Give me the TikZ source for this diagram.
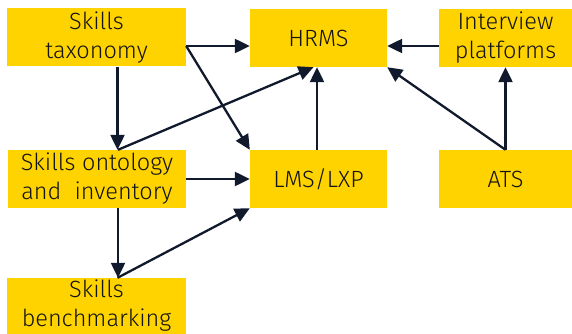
\documentclass[tikz,border=0pt]{standalone}
\usepackage{fontspec}
\setmainfont{Fira Sans Light}
\usetikzlibrary{arrows.meta}
\definecolor{eyyellow}{HTML}{FFD300}
\definecolor{navy}{HTML}{111A2C}
\definecolor{txt}{HTML}{141414}
\begin{document}
\begin{tikzpicture}[x=1pt,y=-1pt,
  box/.style={fill=eyyellow,draw=none,inner sep=0pt,align=center,text=txt,
    font=\fontsize{23.5}{29}\selectfont},
  conn/.style={draw=navy,line width=2.3pt,-{Triangle[length=15pt,width=14pt]}}]
\useasboundingbox (0,0) rectangle (572,334);
\node[box,minimum width=179pt,minimum height=58pt] (tax) at (96.5,37.5) {Skills\\taxonomy};
\node[box,minimum width=137pt,minimum height=58pt] (hrms) at (318.5,38) {HRMS};
\node[box,minimum width=133pt,minimum height=58pt] (int) at (505.5,38) {Interview\\platforms};
\node[box,minimum width=178pt,minimum height=58pt] (ont) at (97,179) {Skills ontology\\and~ inventory};
\node[box,minimum width=137pt,minimum height=58pt] (lms) at (318.5,179) {LMS/LXP};
\node[box,minimum width=133pt,minimum height=58pt] (ats) at (505.5,179) {ATS};
\node[box,minimum width=179pt,minimum height=56pt] (bench) at (96.5,306) {Skills\\benchmarking};
\draw[conn] ([yshift=-8.5pt]tax.east) -- ([yshift=-8.5pt]tax.east -| hrms.west);
\draw[conn] ([yshift=-8.5pt]tax.east) -- (lms.north west);
\draw[conn] ([xshift=21pt]tax.south) -- ([xshift=21pt]tax.south |- ont.north);
\draw[conn] ([xshift=21pt]ont.north) -- ([xshift=-5pt]hrms.south);
\draw[conn] ([xshift=-1.5pt]lms.north) -- ([xshift=-1.5pt]lms.north |- hrms.south);
\draw[conn] ([yshift=-8pt]int.west) -- ([yshift=-8pt]int.west -| hrms.east);
\draw[conn] (ats.north) -- (hrms.south east);
\draw[conn] (ats.north) -- (int.south);
\draw[conn] (ont.east) -- (ont.east -| lms.west);
\draw[conn] ([xshift=21pt]ont.south) -- ([xshift=21pt]ont.south |- bench.north);
\draw[conn] ([xshift=21pt]bench.north) -- (lms.south west);
\end{tikzpicture}
\end{document}
